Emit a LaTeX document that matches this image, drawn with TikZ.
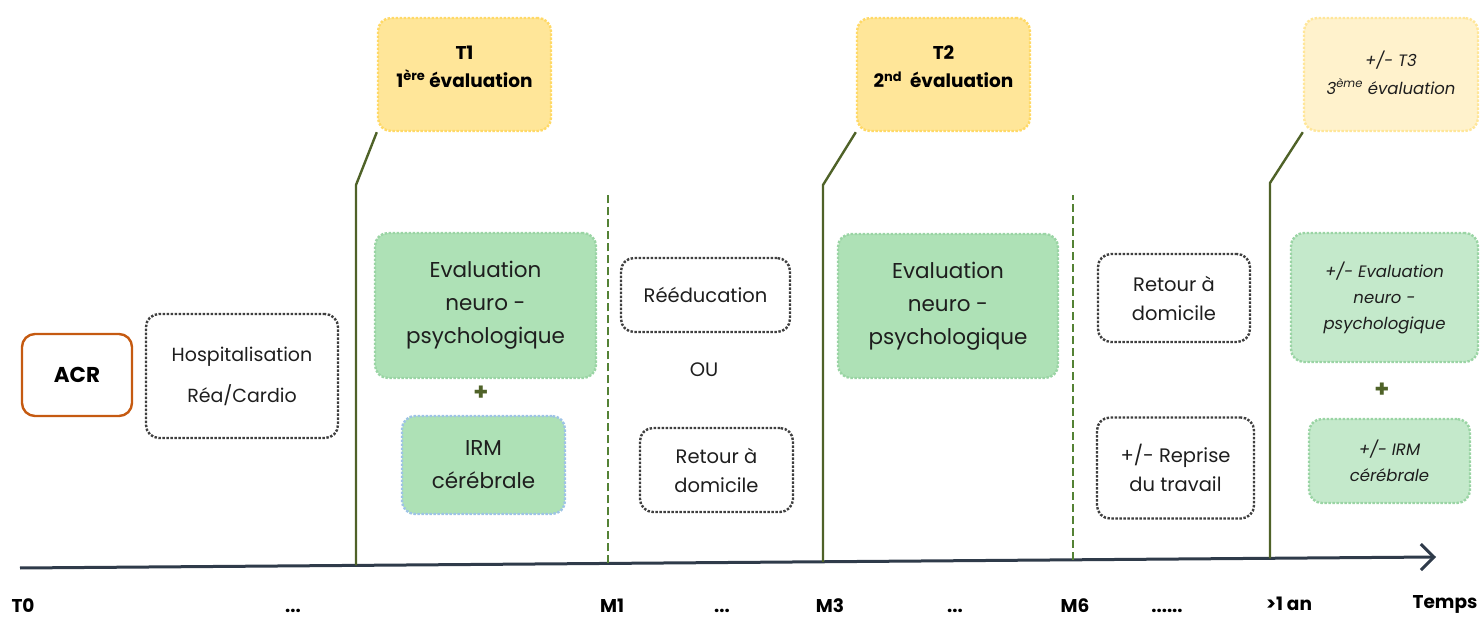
\documentclass[tikz,border=0pt]{standalone}
\usepackage{fontspec}
\setmainfont{Poppins}
\usetikzlibrary{arrows.meta}
\definecolor{tyellow}{HTML}{FFE699}
\definecolor{tyellowline}{HTML}{FFD966}
\definecolor{tpale}{HTML}{FFF2CC}
\definecolor{tpaleline}{HTML}{FFE699}
\definecolor{evalgreen}{HTML}{AEE1B6}
\definecolor{evalline}{HTML}{9AD4A4}
\definecolor{evalpale}{HTML}{C4E9CB}
\definecolor{irmline}{HTML}{9DC3E6}
\definecolor{stepgrey}{HTML}{3F3F3F}
\definecolor{acrorange}{HTML}{C55A11}
\definecolor{tickgreen}{HTML}{4F6228}
\definecolor{monthgreen}{HTML}{548235}
\definecolor{axisblue}{HTML}{2F3B4A}
\definecolor{txt}{HTML}{1E1E1E}
\tikzset{
  box/.style={rounded corners=13pt, align=center, inner sep=0pt, line width=2.4pt,
    text=txt, dash pattern=on 2.4pt off 1.6pt},
  tbox/.style={box, fill=tyellow, draw=tyellowline, minimum width=173, minimum height=113},
  tpalebox/.style={box, fill=tpale, draw=tpaleline, minimum width=174, minimum height=113},
  ttext/.style={align=center, text=black, font=\fontsize{18.5}{28}\selectfont\bfseries},
  evalbox/.style={box, fill=evalgreen, draw=evalline,
    font=\fontsize{21.5}{33}\selectfont},
  palebox/.style={box, fill=evalpale, draw=evalline,
    font=\fontsize{16.5}{26}\selectfont\itshape},
  stepbox/.style={box, draw=stepgrey, font=\fontsize{19.5}{29}\selectfont},
  plus/.style={text=tickgreen, font=\fontsize{24}{24}\selectfont\bfseries},
  tline/.style={draw=tickgreen, line width=2.4pt, line join=round},
  mline/.style={draw=monthgreen, line width=2.6pt, dash pattern=on 8pt off 4pt},
  axis/.style={draw=axisblue, line width=3pt,
    -{Straight Barb[length=13pt, width=26pt, line width=3pt]}},
  when/.style={anchor=base, text=black, font=\fontsize{18.5}{18.5}\selectfont\bfseries},
}
\begin{document}
\begin{tikzpicture}[x=1pt, y=-1pt]
\useasboundingbox (0,0) rectangle (1484,617);
% time axis
\coordinate (axis_start) at (20,568);
\coordinate (axis_end) at (1436,557);
\coordinate (t1_foot) at (356,565.4);
\coordinate (m1_foot) at (608,563.4);
\coordinate (t2_foot) at (823,561.8);
\coordinate (m6_foot) at (1073,559.8);
\coordinate (t3_foot) at (1270,558.3);
\draw[axis] (axis_start) -- (axis_end);
% evaluations
\node[tbox] (t1_box) at (464.5,74.5) {};
\node[tbox] (t2_box) at (943.5,74.5) {};
\node[tpalebox] (t3_box) at (1391,74.5) {};
\node[ttext] (t1_text) at ([yshift=8pt]t1_box.center) {T1\\1\textsuperscript{ère} évaluation};
\node[ttext] (t2_text) at ([yshift=8pt]t2_box.center) {T2\\2\textsuperscript{nd}\ \ évaluation};
\node[ttext, font=\fontsize{16.5}{28}\selectfont\itshape, text=txt] (t3_text)
  at ([yshift=2pt]t3_box.center) {+/- T3\\3\textsuperscript{ème} évaluation};
% bends of the evaluation lines
\coordinate (t1_bend) at (356,185);
\coordinate (t2_bend) at (823,185);
\coordinate (t3_bend) at (1270,183);
\draw[tline] (t1_foot) -- (t1_bend) -- (t1_box.south west);
\draw[tline] (t2_foot) -- (t2_bend) -- (t2_box.south west);
\draw[tline] (t3_foot) -- (t3_bend) -- (t3_box.south west);
% months
\coordinate (m1_top) at (608,195);
\coordinate (m6_top) at (1073,195);
\draw[mline] (m1_foot) -- (m1_top);
\draw[mline] (m6_foot) -- (m6_top);
% before T1
\node[box, draw=acrorange, solid, line width=2.4pt, minimum width=110, minimum height=82,
  font=\fontsize{21.5}{21.5}\selectfont\bfseries, text=black] (acr) at (77,375) {ACR};
\node[stepbox, minimum width=192, minimum height=124,
  font=\fontsize{19}{41}\selectfont] (hosp) at (242,376) {Hospitalisation\\Réa/Cardio};
% T1 to M1
\node[evalbox, minimum width=221, minimum height=145] (eval_one) at (485.5,305.5)
  {Evaluation\\neuro -\\psychologique};
\node[plus] (plus_one) at (481,393) {+};
\node[evalbox, draw=irmline, minimum width=163, minimum height=98] (irm_one) at (483.5,465)
  {IRM\\cérébrale};
% M1 to M3
\node[stepbox, minimum width=169, minimum height=74] (reeduc) at (705.5,295) {Rééducation};
\node[text=txt, font=\fontsize{19.5}{19.5}\selectfont] (ou) at (704,370) {OU};
\node[stepbox, minimum width=153, minimum height=84] (retour_one) at (716.5,470)
  {Retour à\\domicile};
% M3 to M6
\node[evalbox, minimum width=220, minimum height=144] (eval_two) at (948,306)
  {Evaluation\\neuro -\\psychologique};
% M6 to 1 year
\node[stepbox, minimum width=152, minimum height=88] (retour_two) at (1174,298)
  {Retour à\\domicile};
\node[stepbox, minimum width=157, minimum height=101] (reprise) at (1175.5,468)
  {+/- Reprise\\du travail};
% after 1 year
\node[palebox, minimum width=187, minimum height=129] (eval_three) at (1384.5,297.5)
  {+/- Evaluation\\neuro -\\psychologique};
\node[plus] (plus_three) at (1382,390) {+};
\node[palebox, minimum width=161, minimum height=84] (irm_three) at (1389.5,461)
  {+/- IRM\\cérébrale};
% time labels
\node[when] (t0_lab) at (23,612) {T0};
\node[when] (dots_a) at (293,612) {...};
\node[when] (m1_lab) at (612,612) {M1};
\node[when] (dots_b) at (722,612) {...};
\node[when] (m3_lab) at (830,612) {M3};
\node[when] (dots_c) at (955,612) {...};
\node[when] (m6_lab) at (1075,612) {M6};
\node[when] (dots_d) at (1167,612) {......};
\node[when] (year_lab) at (1289,610) {>1 an};
\node[when] (temps_lab) at (1445,608) {Temps};
\end{tikzpicture}
\end{document}
